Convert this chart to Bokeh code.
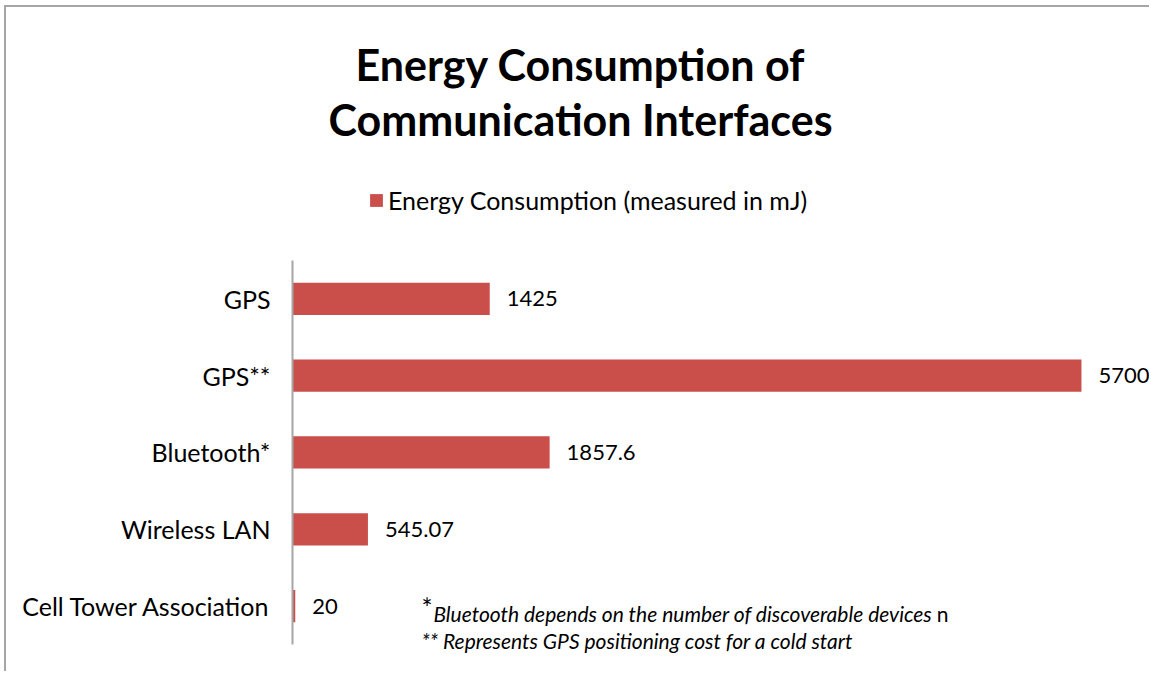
from bokeh.plotting import figure
from bokeh.models import (Range1d, FixedTicker, ColumnDataSource, LabelSet, Label,
                          Legend, LegendItem)
from bokeh.core.properties import value
from bokeh.embed import file_html
from bokeh.resources import INLINE

# ---- data ----
categories = ["GPS", "GPS**", "Bluetooth*", "Wireless LAN", "Cell Tower Association"]
values = [1425, 5700, 1857.6, 545.07, 20]
value_labels = ["1425", "5700", "1857.6", "545.07", "20"]
title_lines = ["Energy Consumption of", "Communication Interfaces"]
series_name = "Energy Consumption (measured in mJ)"
note1 = "Bluetooth depends on the number of discoverable devices"
note2 = "** Represents GPS positioning cost for a cold start"

n = len(categories)
ypos = [n - 1 - i for i in range(n)]  # first category at top

src = ColumnDataSource(dict(y=ypos, v=values, lab=value_labels, cat=categories))

FONT = "Lato"
BAR = "#ca4f4b"

# layout: one unit of y = 76.8 px, one unit of x = 0.13842 px
W, H = 1145, 666
p = figure(width=W, height=H, output_backend="svg", toolbar_location=None,
           x_range=Range1d(0, 6206), y_range=Range1d(-0.878, 7.794),
           min_border_left=286, min_border_top=0, min_border_bottom=0,
           min_border_right=0)
p.styles = {"margin-left": "4px", "margin-top": "5px",
            "border-left": "2px solid #a6a6a6", "border-top": "2px solid #a6a6a6"}
p.outline_line_color = None
p.grid.visible = False
p.xaxis.visible = False

yax = p.yaxis[0]
yax.ticker = FixedTicker(ticks=ypos)
yax.bounds = (-0.5, n - 0.5)
yax.major_label_overrides = {y: c for y, c in zip(ypos, categories)}
yax.major_tick_line_color = None
yax.minor_tick_line_color = None
yax.axis_line_color = "#a6a6a6"
yax.axis_line_width = 2
yax.major_label_text_font = FONT
yax.major_label_text_font_size = "25px"
yax.major_label_text_color = "#000000"
yax.major_label_standoff = 16

r = p.hbar(y="y", right="v", left=0, height=0.42, source=src,
           fill_color=BAR, line_color=None)

labels = LabelSet(x="v", y="y", text="lab", source=src, x_offset=17,
                  text_baseline="middle", text_font=value(FONT),
                  text_font_size="22px", text_color="#000000")
p.add_layout(labels)

# title (two lines)
for yy, t in zip([7.054, 6.338], title_lines):
    p.add_layout(Label(x=2081, y=yy, text=t, text_align="center",
                       text_baseline="middle", text_font=FONT,
                       text_font_style="bold", text_font_size="43px",
                       text_color="#000000"))

# footnotes
p.add_layout(Label(x=932, y=-0.02, text="*", text_baseline="middle",
                   text_font=FONT, text_font_size="26px", text_color="#000000"))
p.add_layout(Label(x=1018, y=-0.096, text=note1, text_baseline="middle",
                   text_font=FONT, text_font_style="italic", text_font_size="21px",
                   text_color="#000000"))
p.add_layout(Label(x=4655, y=-0.096, text="n", text_baseline="middle",
                   text_font=FONT, text_font_size="21px", text_color="#000000"))
p.add_layout(Label(x=932, y=-0.448, text=note2, text_baseline="middle",
                   text_font=FONT, text_font_style="italic", text_font_size="21px",
                   text_color="#000000"))

legend = Legend(items=[LegendItem(label=series_name, renderers=[r])],
                location=(76, 458), orientation="horizontal",
                padding=0, margin=0, spacing=0, glyph_width=16, glyph_height=16,
                label_standoff=4, border_line_color=None,
                background_fill_alpha=0, label_text_font=FONT,
                label_text_font_size="25px", label_text_color="#000000")
p.add_layout(legend)

open("out.html", "w").write(file_html(p, INLINE))
